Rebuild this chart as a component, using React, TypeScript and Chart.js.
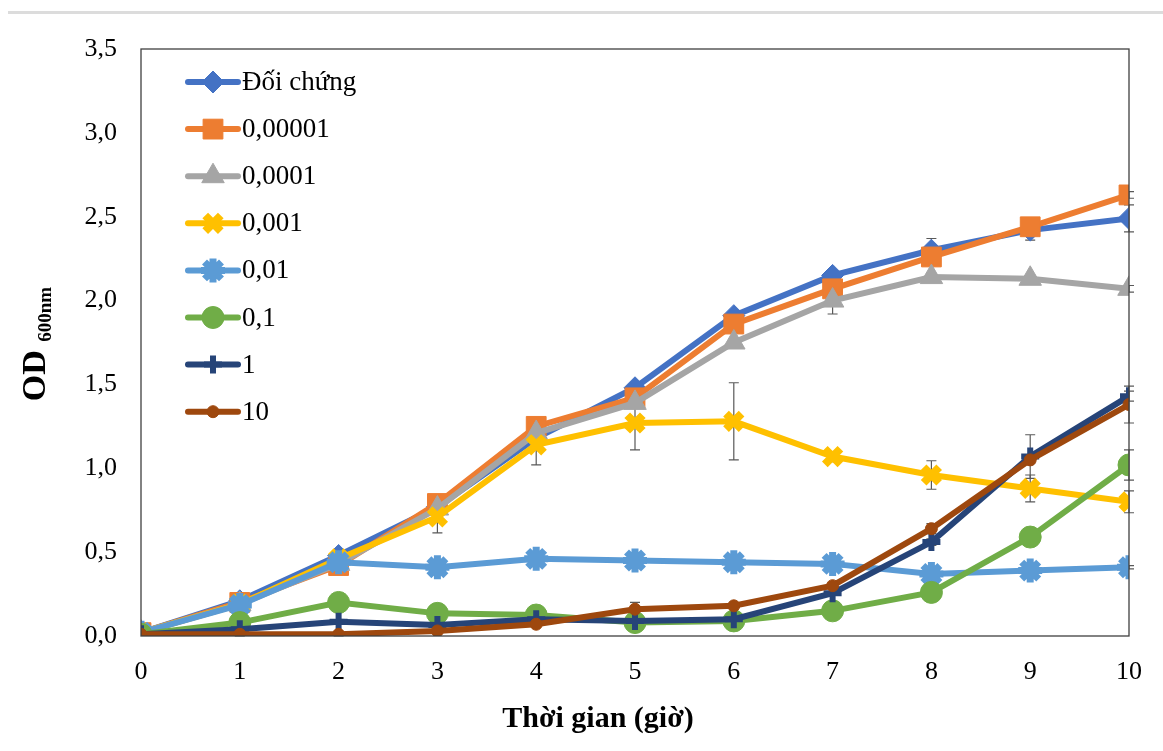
import React, { useEffect, useRef } from 'react';
import { Chart, registerables } from 'chart.js';
import { drawPoint } from 'chart.js/helpers';

Chart.register(...registerables);

const hours = [0, 1, 2, 3, 4, 5, 6, 7, 8, 9, 10];
const yTickValues = [0, 0.5, 1, 1.5, 2, 2.5, 3, 3.5];
const seriesLabels = ['Đối chứng', '0,00001', '0,0001', '0,001', '0,01', '0,1', '1', '10'];

const control = [0.02, 0.21, 0.48, 0.77, 1.18, 1.48, 1.91, 2.15, 2.30, 2.42, 2.49];
const conc00001 = [0.02, 0.20, 0.42, 0.79, 1.25, 1.42, 1.86, 2.07, 2.26, 2.44, 2.63];
const conc0001 = [0.02, 0.19, 0.43, 0.76, 1.21, 1.39, 1.75, 2.00, 2.14, 2.13, 2.07];
const conc001 = [0.02, 0.19, 0.46, 0.71, 1.14, 1.27, 1.28, 1.07, 0.96, 0.88, 0.80];
const conc01 = [0.02, 0.185, 0.44, 0.41, 0.46, 0.45, 0.44, 0.43, 0.37, 0.39, 0.41];
const conc1 = [0.01, 0.08, 0.20, 0.135, 0.125, 0.08, 0.09, 0.15, 0.26, 0.59, 1.02];
const conc10 = [0.01, 0.04, 0.085, 0.065, 0.10, 0.09, 0.10, 0.255, 0.56, 1.07, 1.43];
const conc100 = [0.01, 0.01, 0.01, 0.03, 0.07, 0.16, 0.18, 0.30, 0.64, 1.05, 1.38];

const errControl = [0, 0.01, 0.01, 0.02, 0.02, 0.02, 0.02, 0.02, 0.07, 0.06, 0.08];
const err00001 = [0, 0.01, 0.01, 0.02, 0.02, 0.02, 0.02, 0.02, 0.02, 0.02, 0.02];
const err0001 = [0, 0.01, 0.01, 0.02, 0.02, 0.02, 0.02, 0.08, 0.02, 0.02, 0.02];
const err001 = [0, 0.01, 0.01, 0.095, 0.12, 0.16, 0.23, 0.03, 0.085, 0.08, 0.065];
const err01 = [0, 0.01, 0.01, 0.01, 0.01, 0.01, 0.01, 0.01, 0.01, 0.01, 0.01];
const err1 = [0, 0.01, 0.01, 0.01, 0.01, 0.01, 0.01, 0.01, 0.01, 0.01, 0.09];
const err10 = [0, 0.01, 0.01, 0.01, 0.01, 0.01, 0.01, 0.01, 0.02, 0.13, 0.03];
const err100 = [0, 0.01, 0.01, 0.01, 0.01, 0.04, 0.01, 0.01, 0.03, 0.02, 0.11];

const colors = ['#4472C4', '#ED7D31', '#A5A5A5', '#FFC000', '#5B9BD5', '#70AD47', '#264478', '#9E480E'];
const values = [control, conc00001, conc0001, conc001, conc01, conc1, conc10, conc100];
const errors = [errControl, err00001, err0001, err001, err01, err1, err10, err100];
const markerStyles = ['rectRot', 'rect', 'triangle', 'crossRot', 'star', 'circle', 'cross', 'circle'];
const markerRadius = [11, 14, 13, 11, 12, 11, 9, 6];
const markerBorder = [1, 1, 1, 8, 7, 1, 6, 1];

const FONT = "'Liberation Serif', 'Times New Roman', serif";

export default function App() {
  const canvasRef = useRef<HTMLCanvasElement | null>(null);

  useEffect(() => {
    const canvas = canvasRef.current;
    if (!canvas) return;

    const datasets = values.map((vals, i) => ({
      label: seriesLabels[i],
      data: hours.map((h, j) => ({ x: h, y: vals[j] })),
      borderColor: colors[i],
      backgroundColor: colors[i],
      borderWidth: 6,
      pointStyle: markerStyles[i] as any,
      pointRadius: markerRadius[i],
      pointBorderWidth: markerBorder[i],
      pointBackgroundColor: colors[i],
      pointBorderColor: colors[i],
      tension: 0,
      order: 10 - i,
    }));

    const errorBarPlugin = {
      id: 'errorBars',
      beforeDatasetsDraw(chart: any) {
        const ctx = chart.ctx;
        const xs = chart.scales.x;
        const ys = chart.scales.y;
        ctx.save();
        ctx.strokeStyle = '#595959';
        ctx.lineWidth = 1.2;
        values.forEach((vals, i) => {
          hours.forEach((h, j) => {
            const e = errors[i][j];
            if (!e) return;
            const px = xs.getPixelForValue(h);
            const top = ys.getPixelForValue(vals[j] + e);
            const bot = ys.getPixelForValue(Math.max(0, vals[j] - e));
            ctx.beginPath();
            ctx.moveTo(px, top);
            ctx.lineTo(px, bot);
            ctx.moveTo(px - 5, top);
            ctx.lineTo(px + 5, top);
            ctx.moveTo(px - 5, bot);
            ctx.lineTo(px + 5, bot);
            ctx.stroke();
          });
        });
        ctx.restore();
      },
    };

    const framePlugin = {
      id: 'frameAndText',
      afterDraw(chart: any) {
        const ctx = chart.ctx;
        const a = chart.chartArea;
        ctx.save();
        ctx.strokeStyle = '#404040';
        ctx.lineWidth = 1.3;
        ctx.strokeRect(a.left, a.top, a.right - a.left, a.bottom - a.top);

        // legend
        for (let i = 0; i < seriesLabels.length; i++) {
          const y = 82 + i * 47.1;
          ctx.strokeStyle = colors[i];
          ctx.fillStyle = colors[i];
          ctx.lineWidth = 6;
          ctx.lineCap = 'round';
          ctx.beginPath();
          ctx.moveTo(188, y);
          ctx.lineTo(238, y);
          ctx.stroke();
          ctx.lineCap = 'butt';
          ctx.lineWidth = markerBorder[i];
          drawPoint(ctx, { pointStyle: markerStyles[i] as any, radius: markerRadius[i], rotation: 0, borderWidth: markerBorder[i] }, 213, y);
          ctx.fillStyle = '#000';
          ctx.font = `27px ${FONT}`;
          ctx.textBaseline = 'middle';
          ctx.textAlign = 'left';
          ctx.fillText(seriesLabels[i], 242, y + 1);
        }

        // x title
        ctx.fillStyle = '#000';
        ctx.font = `bold 30px ${FONT}`;
        ctx.textAlign = 'center';
        ctx.textBaseline = 'middle';
        ctx.fillText('Thời gian (giờ)', 598, 719);

        // y title
        ctx.save();
        ctx.translate(33, 344);
        ctx.rotate(-Math.PI / 2);
        ctx.textBaseline = 'alphabetic';
        ctx.textAlign = 'left';
        ctx.font = `bold 34px ${FONT}`;
        const w1 = ctx.measureText('OD ').width;
        ctx.font = `bold 19px ${FONT}`;
        const w2 = ctx.measureText('600nm').width;
        const start = -(w1 + w2) / 2;
        ctx.font = `bold 34px ${FONT}`;
        ctx.fillText('OD ', start, 12);
        ctx.font = `bold 19px ${FONT}`;
        ctx.fillText('600nm', start + w1, 18);
        ctx.restore();
        ctx.restore();
      },
    };

    const chart = new Chart(canvas, {
      type: 'line',
      data: { datasets: datasets as any },
      options: {
        animation: false,
        responsive: false,
        devicePixelRatio: 1,
        layout: { padding: { top: 49, right: 33, left: 0, bottom: 0 } },
        plugins: { legend: { display: false }, tooltip: { enabled: false } },
        scales: {
          x: {
            type: 'linear',
            min: 0,
            max: 10,
            grid: { display: false, drawTicks: false },
            border: { display: false },
            ticks: {
              stepSize: 1,
              padding: 21,
              color: '#000',
              font: { family: FONT, size: 26 },
            },
            afterFit: (s: any) => { s.height = 115; },
          },
          y: {
            type: 'linear',
            min: 0,
            max: 3.5,
            grid: { display: false, drawTicks: false },
            border: { display: false },
            afterBuildTicks: (s: any) => { s.ticks = yTickValues.map((v) => ({ value: v })); },
            ticks: {
              padding: 24,
              color: '#000',
              font: { family: FONT, size: 26 },
              callback: (v: any) => Number(v).toFixed(1).replace('.', ','),
            },
            afterFit: (s: any) => { s.width = 141; },
          },
        },
      },
      plugins: [errorBarPlugin, framePlugin],
    });

    return () => chart.destroy();
  }, []);

  return (
    <div style={{ position: 'fixed', left: 0, top: 0, width: 1163, height: 751, background: '#fff' }}>
      <div style={{ position: 'absolute', left: 8, right: 0, top: 11, height: 3, background: '#dcdcdc' }} />
      <canvas ref={canvasRef} width={1163} height={751} style={{ position: 'absolute', left: 0, top: 0 }} />
    </div>
  );
}
